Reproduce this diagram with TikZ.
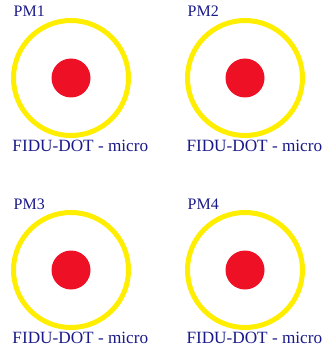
\documentclass[tikz,border=0pt]{standalone}
\usepackage{fontspec}
\setmainfont{Liberation Serif}
\definecolor{txtblue}{HTML}{1A1A88}
\definecolor{ringyellow}{HTML}{FFEE00}
\definecolor{dotred}{HTML}{EE1125}
\begin{document}
\begin{tikzpicture}[x=1pt,y=-1pt,
  ring/.style={circle,draw=ringyellow,line width=5pt,minimum size=115pt,inner sep=0pt},
  reddot/.style={circle,fill=dotred,minimum size=39pt,inner sep=0pt},
  lbl/.style={anchor=base west,inner sep=0pt,text=txtblue,font=\fontsize{16}{18}\selectfont},
  sublbl/.style={lbl,font=\fontsize{17.2}{19}\selectfont}]
\useasboundingbox (0,0) rectangle (327,350);
\foreach \i/\x/\y in {1/0/0,2/174/0,3/0/192,4/174/192}{
  \node[ring] (ring\i) at (71+\x,78+\y) {};
  \node[reddot] (dot\i) at (71+\x,78+\y) {};
  \node[lbl] (pm\i) at (13.5+\x,17+\y) {PM\i};
  \node[sublbl] (fidu\i) at (12.3+\x,151+\y) {FIDU-DOT - micro};
}
\end{tikzpicture}
\end{document}
